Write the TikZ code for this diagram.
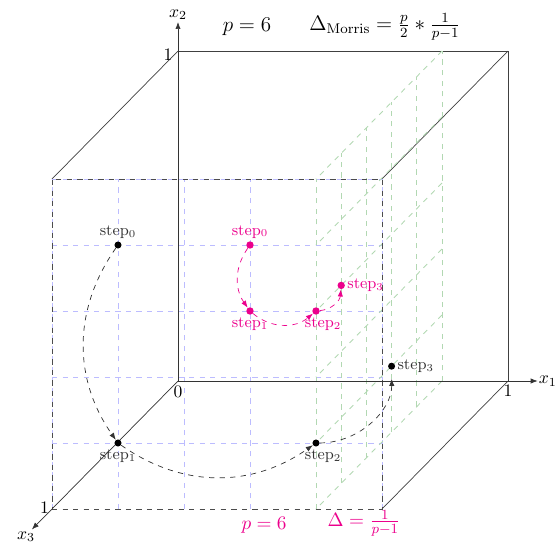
\documentclass[tikz,border=0pt]{standalone}
\usetikzlibrary{arrows.meta}
\definecolor{mag}{RGB}{236,0,140}
\definecolor{gridblue}{RGB}{188,188,255}
\definecolor{gridgreen}{RGB}{178,216,178}
\begin{document}
\begin{tikzpicture}[x={(6.6cm,0cm)}, y={(0cm,6.6cm)}, z={(-2.52cm,-2.56cm)},
  bgrid/.style={gridblue, dashed, line width=0.55pt},
  ggrid/.style={gridgreen, dashed, line width=0.5pt},
  edge/.style={black!75},
  fedge/.style={black!70, dashed},
  axis/.style={black!80, -{Latex[length=4pt,width=3pt]}},
  dotb/.style={circle, fill=black, inner sep=0pt, minimum size=4pt},
  dotm/.style={circle, fill=mag, inner sep=0pt, minimum size=4.2pt},
  lblb/.style={font=\small, text=black!80, label distance=-2pt},
  lblm/.style={font=\small, text=mag, label distance=-2pt},
  arrb/.style={dashed, black!80, -{Latex[length=4pt,width=3pt]}},
  arrm/.style={dashed, mag, -{Latex[length=4pt,width=3pt]}},
]
\useasboundingbox (-3.56cm,-3.22cm) rectangle (7.6cm,7.62cm);
% corners
\coordinate (O) at (0,0,0);
\coordinate (A) at (1,0,0);
\coordinate (B) at (1,1,0);
\coordinate (C) at (0,1,0);
\coordinate (Oz) at (0,0,1);
\coordinate (Az) at (1,0,1);
\coordinate (Bz) at (1,1,1);
\coordinate (Cz) at (0,1,1);
\coordinate (X1) at (1.09,0,0);
\coordinate (X2) at (0,1.088,0);
\coordinate (X3) at (0,0,1.16);
% solid cube edges
\draw[edge] (C) -- (B) -- (A);
\draw[edge] (C) -- (Cz);
\draw[edge] (B) -- (Bz);
\draw[edge] (A) -- (Az);
% blue grid on the front face
\foreach \t in {0,0.2,0.4,0.6,0.8,1}{
  \draw[bgrid] (\t,0,1) -- (\t,1,1);
  \draw[bgrid] (0,\t,1) -- (1,\t,1);
}
% green grid in the plane x1 = 0.8
\foreach \t in {0,0.2,0.4,0.6,0.8,1}{
  \draw[ggrid] (0.8,0,\t) -- (0.8,1,\t);
  \draw[ggrid] (0.8,\t,0) -- (0.8,\t,1);
}
% front face
\draw[fedge] (Oz) -- (Az) -- (Bz) -- (Cz) -- cycle;
% axes
\draw[axis] (O) -- (X1);
\draw[axis] (O) -- (X2);
\draw[axis] (O) -- (X3);
\node[right, inner sep=0.5pt] (lx1) at (X1) {$x_1$};
\node[above, inner sep=1pt] (lx2) at (X2) {$x_2$};
\node[anchor=north east, inner sep=0pt, xshift=2pt, yshift=-1pt] (lx3) at (X3) {$x_3$};
\node[anchor=east, inner sep=3pt, yshift=-2pt] (one2) at (C) {1};
\node[below, inner sep=2pt] (one1) at (A) {1};
\node[left, inner sep=1.5pt, yshift=1pt] (one3) at (Oz) {1};
\node[below, inner sep=2.5pt] (zero) at (O) {0};
% titles
\node[font=\fontsize{11.5}{14}\selectfont] (tp) at (1.38cm,7.08cm) {$p=6$};
\node[font=\fontsize{11.5}{14}\selectfont] (tm) at (4.14cm,7.08cm) {$\Delta_{\mathrm{Morris}}=\frac{p}{2}*\frac{1}{p-1}$};
\node[text=mag, font=\fontsize{11}{13}\selectfont] (bp) at (1.72cm,-2.88cm) {$p=6$};
\node[text=mag, font=\fontsize{11}{13}\selectfont] (bm) at (3.72cm,-2.84cm) {$\Delta=\frac{1}{p-1}$};
% black trajectory
\node[dotb, label={[lblb]above:step$_0$}] (b0) at (0.2,0.8,1) {};
\node[dotb, label={[lblb]below:step$_1$}] (b1) at (0.2,0.2,1) {};
\node[dotb, label={[lblb, xshift=4pt]below:step$_2$}] (b2) at (0.8,0.2,1) {};
\node[dotb, label={[lblb, label distance=0pt, inner sep=1pt]right:step$_3$}] (b3) at (0.8,0.2,0.4) {};
\draw[arrb] (b0) to[bend right=35] (b1);
\draw[arrb] (b1) to[bend right=35] (b2);
\draw[arrb, shorten >=5pt] (b2) to[bend right=45] (b3);
% magenta trajectory
\node[dotm, label={[lblm]above:step$_0$}] (m0) at (0.6,0.8,1) {};
\node[dotm, label={[lblm]below:step$_1$}] (m1) at (0.6,0.6,1) {};
\node[dotm, label={[lblm, xshift=4pt]below:step$_2$}] (m2) at (0.8,0.6,1) {};
\node[dotm, label={[lblm, label distance=0pt, inner sep=1pt]right:step$_3$}] (m3) at (0.8,0.6,0.8) {};
\draw[arrm] (m0) to[bend right=35] (m1);
\draw[arrm] (m1) to[bend right=40] (m2);
\draw[arrm] (m2) to[bend right=40] (m3);
\end{tikzpicture}
\end{document}
